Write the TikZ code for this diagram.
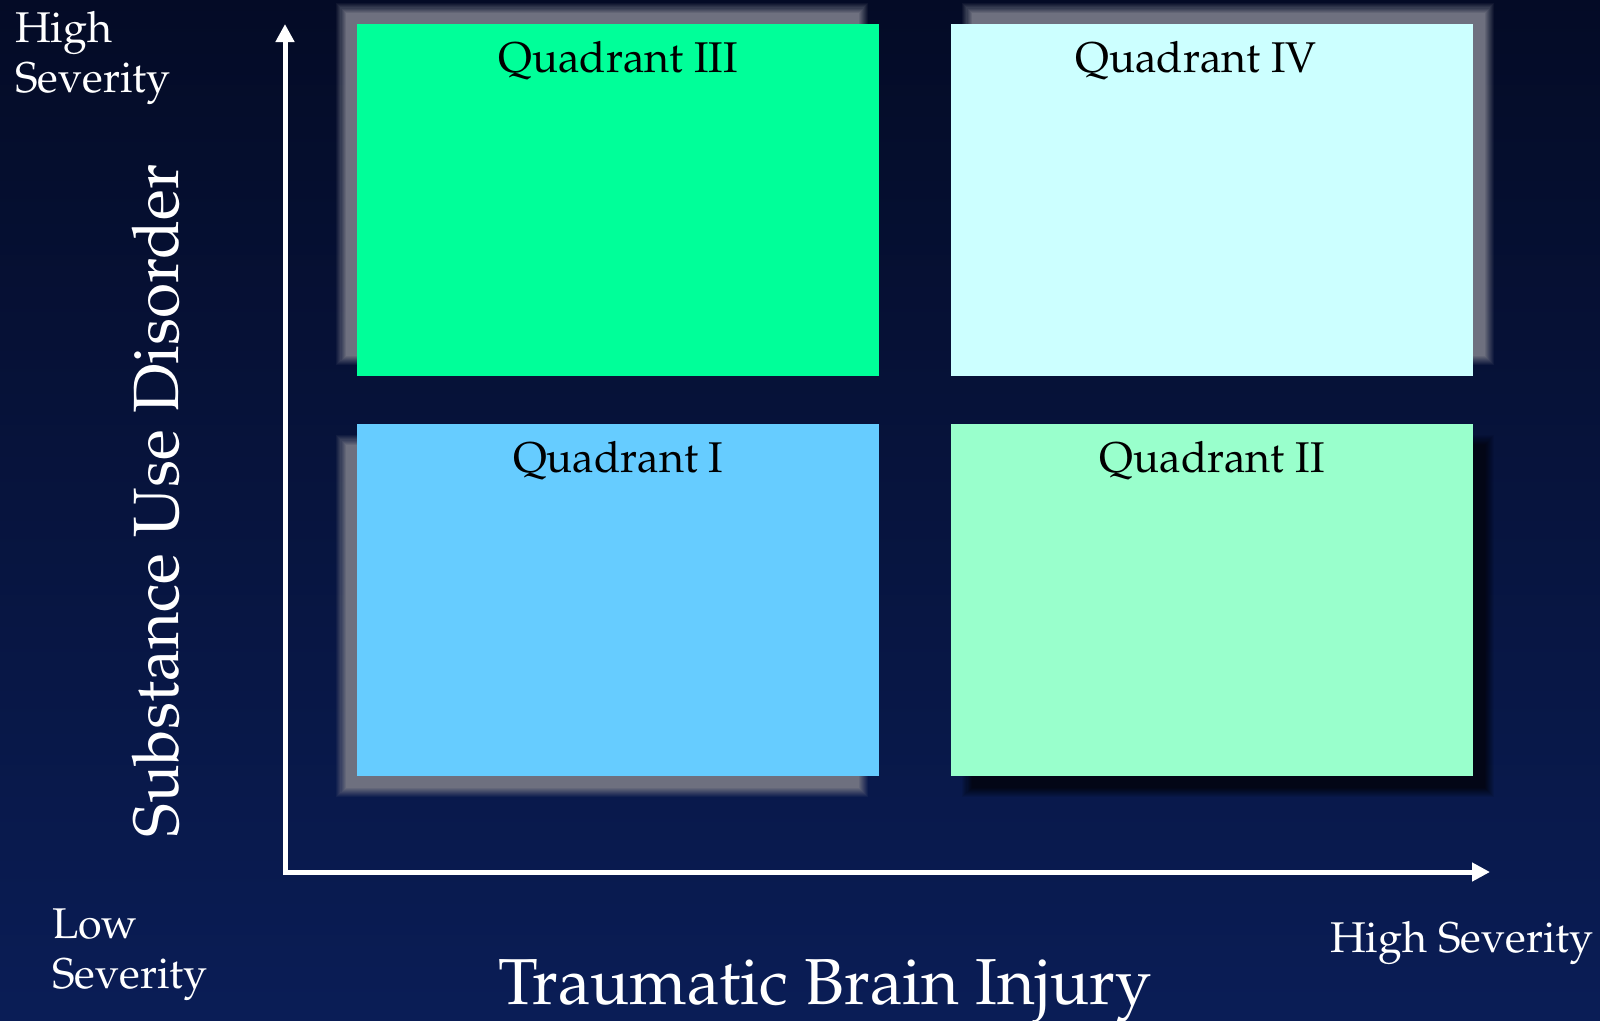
\documentclass[tikz,border=0pt]{standalone}
\usepackage[T1]{fontenc}
\renewcommand{\rmdefault}{ppl}
\usetikzlibrary{arrows.meta}
\definecolor{bgtop}{RGB}{4,11,38}
\definecolor{bgbot}{RGB}{10,29,86}
\definecolor{qgreen}{RGB}{0,255,153}
\definecolor{qcyan}{RGB}{204,255,255}
\definecolor{qblue}{RGB}{102,204,255}
\definecolor{qmint}{RGB}{153,255,204}
\definecolor{shgrey}{RGB}{110,112,127}
\definecolor{shblack}{RGB}{3,6,22}
\newcommand{\softshadow}[4]{% #1 node, #2 color, #3 dx, #4 dy
  \foreach \k in {1,...,10}{%
    \pgfmathsetmacro{\r}{5-(\k-1)*1.1}%
    \pgfmathsetmacro{\op}{1/(11-\k)}%
    \fill[#2, fill opacity=\op] ([shift={(#3-\r,#4-\r)}]#1.north west) rectangle ([shift={(#3+\r,#4+\r)}]#1.south east);
  }%
}
\tikzset{
  quad/.style={rectangle, draw=none, inner sep=0pt, minimum width=522pt, minimum height=352pt, anchor=north west},
  qlabel/.style={text=black, inner sep=0pt, anchor=base, font=\fontsize{43}{50}\selectfont},
  sev/.style={text=white, inner sep=0pt, font=\fontsize{43}{50}\selectfont},
  bigl/.style={text=white, inner sep=0pt, font=\fontsize{65}{72}\selectfont},
  axis/.style={draw=white, line width=5pt, line join=miter,
    arrows={Triangle[length=18pt,width=18pt]-Triangle[length=18pt,width=18pt]}},
}
\begin{document}
\begin{tikzpicture}[x=1pt,y=-1pt]
\useasboundingbox (0,0) rectangle (1600,1020);
\shade[top color=bgtop, bottom color=bgbot] (0,0) rectangle (1600,1020);

% boxes (positions only, filled after shadows)
\path (357,24) node[quad] (q3) {};
\path (951,24) node[quad] (q4) {};
\path (357,424) node[quad] (q1) {};
\path (951,424) node[quad] (q2) {};

\softshadow{q3}{shgrey}{-16}{-16}
\softshadow{q4}{shgrey}{16}{-16}
\softshadow{q1}{shgrey}{-16}{16}
\softshadow{q2}{shblack}{16}{16}

\fill[qgreen] (q3.north west) rectangle (q3.south east);
\fill[qcyan] (q4.north west) rectangle (q4.south east);
\fill[qblue] (q1.north west) rectangle (q1.south east);
\fill[qmint] (q2.north west) rectangle (q2.south east);

\node[qlabel] (q3t) at ([shift={(0,48)}]q3.north) {Quadrant III};
\node[qlabel] (q4t) at ([shift={(-16,48)}]q4.north) {Quadrant IV};
\node[qlabel] (q1t) at ([shift={(0,48)}]q1.north) {Quadrant I};
\node[qlabel] (q2t) at ([shift={(0,48)}]q2.north) {Quadrant II};

% axes
\coordinate (corner) at (285,872);
\coordinate (ytip) at (285,24);
\coordinate (xtip) at (1490,872);
\draw[axis] (ytip) -- (corner) -- (xtip);

% labels
\node[sev, anchor=base west, align=left] (hs) at (15,92) {High\\Severity};
\node[sev, anchor=base west, align=left] (ls) at (52,988) {Low\\Severity};
\node[sev, anchor=base west] (hsx) at (1330,952) {High Severity};
\node[bigl, anchor=base] (tbi) at (825,1004) {Traumatic Brain Injury};
\node[bigl, anchor=base, rotate=90, font=\fontsize{64}{72}\selectfont] (sud) at (178,501) {Substance Use Disorder};
\end{tikzpicture}
\end{document}
